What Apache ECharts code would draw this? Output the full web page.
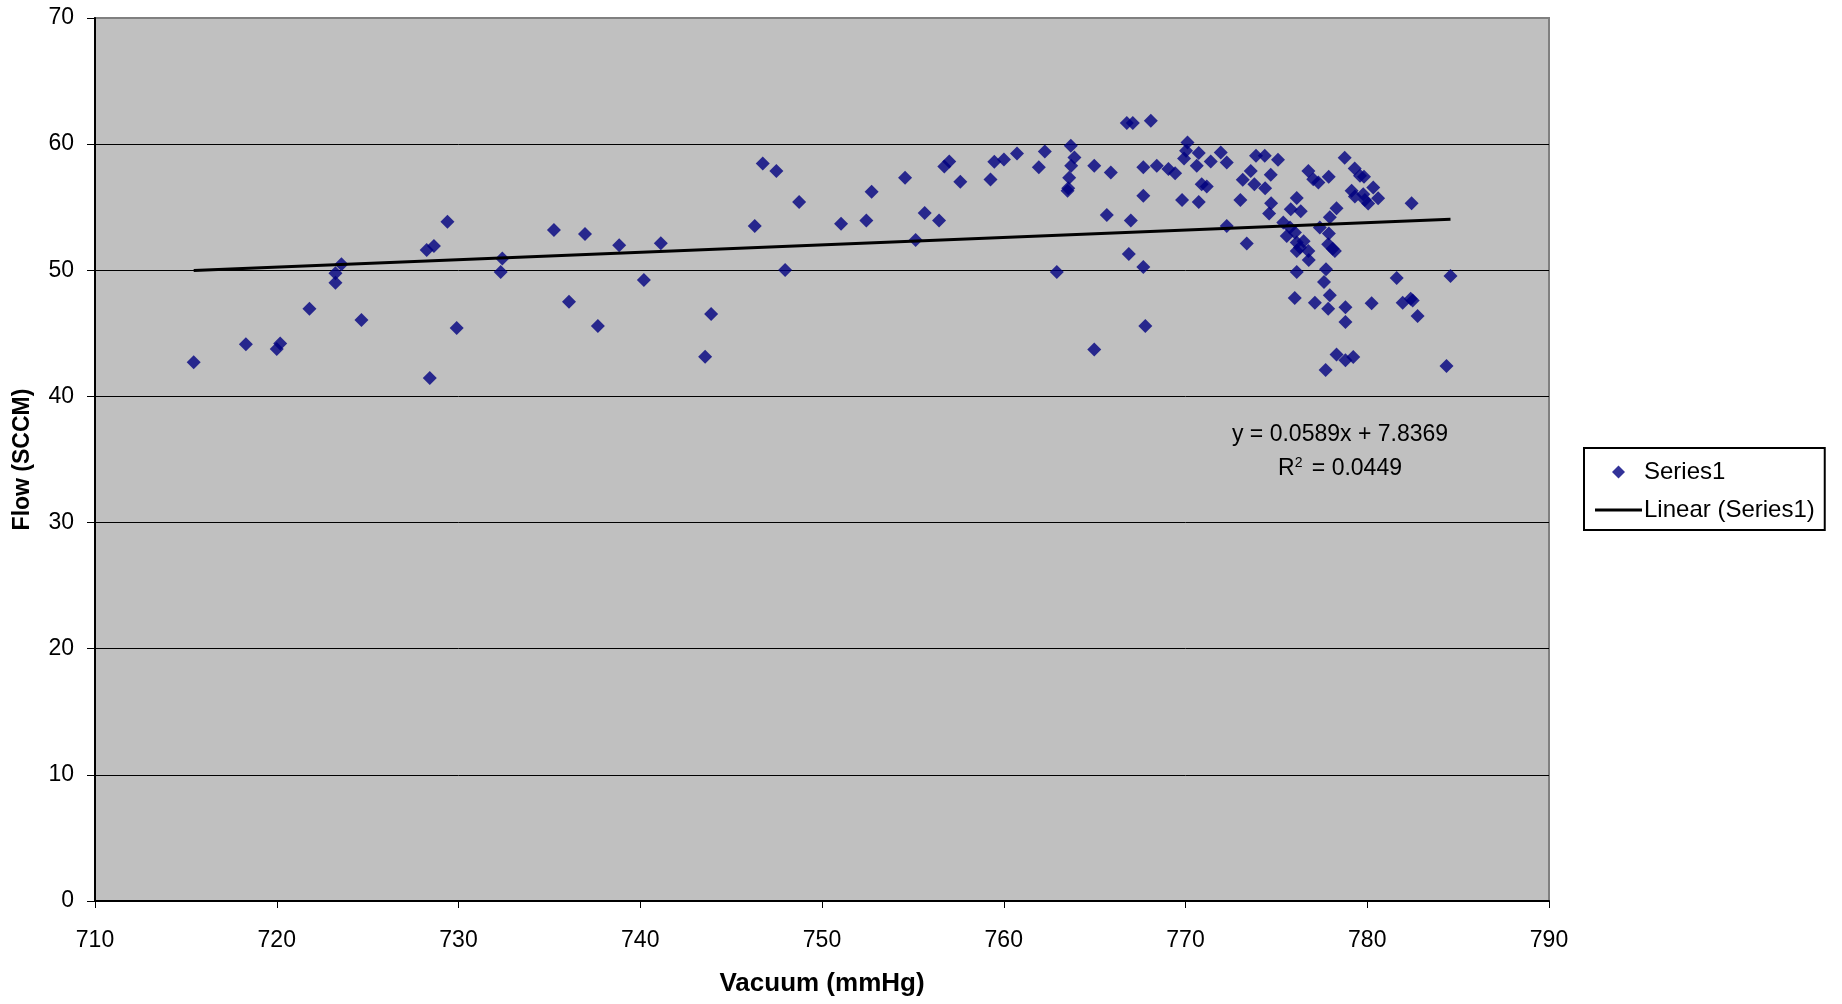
<!DOCTYPE html>
<html>
<head>
<meta charset="utf-8">
<script src="https://cdn.jsdelivr.net/npm/echarts@6/dist/echarts.min.js"></script>
<style>
html,body{margin:0;padding:0;background:#fff;}
#chart{width:1842px;height:1004px;}
</style>
</head>
<body>
<div id="chart"></div>
<script>
// Vacuum (mmHg) values
const vacuum = [
715.43,718.30,720.00,720.19,721.80,723.23,723.23,723.56,724.66,728.25,728.65,729.39,729.90,728.42,
732.41,732.32,735.25,736.08,736.96,737.67,738.84,740.20,741.13,743.57,743.90,746.30,746.74,747.49,747.97,748.74,
751.05,752.44,752.73,754.57,755.15,755.65,756.44,756.73,757.00,757.61,759.27,759.48,760.01,760.73,761.93,762.26,762.92,
763.69,763.89,763.71,763.60,763.51,763.55,764.98,765.89,765.67,766.99,766.88,767.68,767.79,764.98,766.77,767.10,768.09,
767.68,767.68,768.42,769.06,769.43,770.11,770.03,769.92,769.81,770.73,770.62,771.39,770.73,770.89,771.17,771.94,772.27,
772.27,773.37,773.02,773.15,773.59,773.79,773.88,
774.36,775.09,774.69,774.38,774.71,774.60,776.12,775.79,776.34,775.38,775.75,776.02,775.57,776.12,776.30,776.76,776.12,
776.78,776.12,776.01,776.76,777.03,777.31,777.88,778.76,779.31,779.60,779.82,780.33,779.14,779.32,779.78,780.05,780.60,
782.44,778.31,777.94,777.39,777.89,777.85,778.22,777.73,777.62,777.94,777.85,777.12,778.80,778.80,780.24,781.62,781.95,
782.39,782.50,782.77,784.58,784.36,778.31,778.80,779.23,777.71,776.50,778.10,779.87
];
// Flow (SCCM) values
const flow = [
42.70,44.13,43.76,44.20,46.96,49.02,49.76,50.48,46.06,51.61,51.93,53.84,45.42,41.46,
50.93,49.87,53.20,47.51,52.88,45.58,51.98,49.23,52.14,43.15,46.53,53.52,58.47,57.88,50.03,55.42,
53.68,53.94,56.22,57.33,52.41,54.55,53.94,58.23,58.62,57.01,57.20,58.60,58.78,59.26,58.17,59.42,49.87,
59.87,58.94,58.28,57.33,56.30,56.50,58.28,57.75,54.39,53.94,51.30,50.26,45.58,43.73,61.67,61.67,61.85,
58.17,55.90,58.28,58.02,57.70,60.13,59.47,58.86,55.58,59.29,58.28,58.62,55.42,56.82,56.64,59.34,58.54,
53.52,52.12,55.58,57.17,57.88,56.82,59.07,
59.07,58.76,57.57,56.51,55.32,54.50,55.74,54.84,54.68,53.78,53.39,52.99,52.72,52.20,51.80,51.53,51.53,
50.82,49.87,47.80,57.88,57.22,56.96,57.41,58.92,58.07,57.49,57.41,56.56,56.30,55.85,56.03,55.29,55.71,
55.32,54.92,54.21,53.39,52.91,52.06,51.53,50.08,49.07,48.02,46.96,47.43,47.06,45.90,47.38,49.39,47.43,
47.75,47.60,46.38,49.55,42.41,43.33,42.86,43.12,42.09,52.30,51.70,55.58
];
// Trend line as given by the chart's own equation
const trendSlope = 0.0589;
const trendIntercept = 7.8369;
const trendLabel = 'y = 0.0589x + 7.8369';
const r2Value = '0.0449';
const seriesNames = ['Series1', 'Linear (Series1)'];

const points = vacuum.map((v, i) => [v, flow[i]]);
const xMin = Math.min(...vacuum), xMax = Math.max(...vacuum);
const trend = [[xMin, trendSlope * xMin + trendIntercept], [xMax, trendSlope * xMax + trendIntercept]];

const FONT = "'Liberation Sans', Arial, sans-serif";
const chart = echarts.init(document.getElementById('chart'), null, {renderer: 'canvas'});
chart.setOption({
  animation: false,
  backgroundColor: '#ffffff',
  textStyle: {fontFamily: FONT},
  grid: {
    left: 95, right: 293, top: 18, bottom: 103,
    containLabel: false, outerBoundsMode: 'none',
    show: true, backgroundColor: '#C0C0C0', borderColor: '#808080', borderWidth: 2
  },
  xAxis: {
    type: 'value', min: 710, max: 790, interval: 10,
    name: 'Vacuum (mmHg)', nameLocation: 'middle', nameGap: 70,
    nameTextStyle: {fontFamily: FONT, fontSize: 26, fontWeight: 'bold', color: '#000'},
    axisLine: {show: true, onZero: false, lineStyle: {color: '#000', width: 2}},
    axisTick: {show: true, length: 7, lineStyle: {color: '#000', width: 1}},
    axisLabel: {fontFamily: FONT, fontSize: 23, color: '#000', margin: 28},
    splitLine: {show: false}
  },
  yAxis: {
    type: 'value', min: 0, max: 70, interval: 10,
    name: 'Flow (SCCM)', nameLocation: 'middle', nameGap: 61, nameRotate: 90,
    nameTextStyle: {fontFamily: FONT, fontSize: 23, fontWeight: 'bold', color: '#000'},
    axisLine: {show: true, onZero: false, lineStyle: {color: '#000', width: 2}},
    axisTick: {show: true, length: 8, lineStyle: {color: '#000', width: 1}},
    axisLabel: {fontFamily: FONT, fontSize: 23, color: '#000', margin: 21},
    splitLine: {show: true, lineStyle: {color: ['#000','#000','#000','#000','#000','#000','#000','#808080'], width: 1}}
  },
  legend: {
    orient: 'vertical', left: 1584, top: 448,
    padding: [12, 10, 8, 11],
    itemGap: 14,
    itemWidth: 47, itemHeight: 13,
    borderColor: '#000', borderWidth: 2, backgroundColor: '#fff',
    textStyle: {fontFamily: FONT, fontSize: 24, color: '#000', padding: [0, 0, 0, -3]},
    data: [
      {name: seriesNames[0], icon: 'path://M6,0 L12,6 L6,12 L0,6 Z', itemStyle: {color: '#000080'}},
      {name: seriesNames[1], icon: 'path://M0,0 L47,0 L47,3 L0,3 Z', itemStyle: {color: '#000'}}
    ]
  },
  graphic: [
    {type: 'text', x: 1340, y: 435, z: 100,
     style: {text: trendLabel, font: '23px ' + FONT, fill: '#000', align: 'center', verticalAlign: 'middle'}},
    {type: 'text', x: 1340, y: 469, z: 100,
     style: {text: 'R{sup|2} = ' + r2Value, font: '23px ' + FONT, fill: '#000', align: 'center', verticalAlign: 'middle',
       rich: {sup: {fontSize: 14, verticalAlign: 'top', padding: [0, 3, 12, 0], fontFamily: FONT}}}}
  ],
  series: [
    {
      name: seriesNames[0], type: 'scatter', data: points,
      symbol: 'diamond', symbolSize: 14,
      itemStyle: {color: '#000080'}, z: 3
    },
    {
      name: seriesNames[1], type: 'line', data: trend,
      showSymbol: false, symbol: 'none',
      lineStyle: {color: '#000', width: 3}, itemStyle: {color: '#000'}, z: 4
    }
  ]
});
</script>
</body>
</html>
